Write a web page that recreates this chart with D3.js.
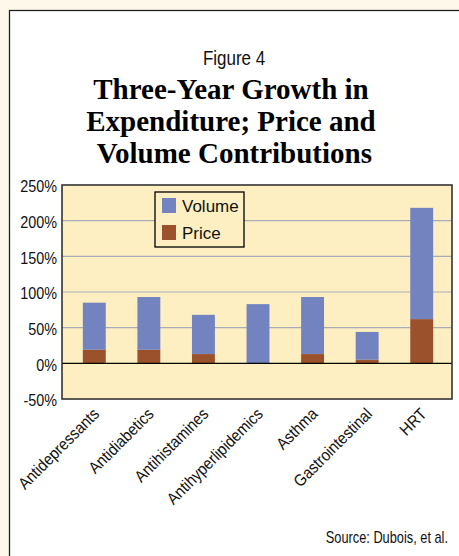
<!DOCTYPE html>
<html lang="en">
<head>
  <meta charset="UTF-8">
  <title>Figure 4</title>
  <script src="https://d3js.org/d3.v7.min.js"></script>
  <style>
    body {
      margin: 0;
      background: #fdf8ea;
    }
    svg {
      display: block;
    }
    .sans {
      font-family: "Liberation Sans", Arial, sans-serif;
      fill: #111;
    }
    .title {
      font-family: "Liberation Serif", "Times New Roman", serif;
      font-weight: bold;
      font-size: 29px;
      fill: #000;
    }
  </style>
</head>
<body>
  <svg width="459" height="556"></svg>

  <script>
    const categories = ["Antidepressants", "Antidiabetics", "Antihistamines", "Antihyperlipidemics", "Asthma", "Gastrointestinal", "HRT"];
    const price = [19, 19, 13, 0, 13, 5, 62];
    const volume = [66, 74, 55, 83, 80, 39, 156];
    const yTicks = [-50, 0, 50, 100, 150, 200, 250];
    const seriesNames = ["Volume", "Price"];

    const colors = { Volume: "#7283c0", Price: "#9b522c" };

    const svg = d3.select("svg");

    // white panel with border
    svg.append("rect")
      .attr("x", 9.5).attr("y", 10.5)
      .attr("width", 470).attr("height", 560)
      .attr("fill", "#fff")
      .attr("stroke", "#222")
      .attr("stroke-width", 1.3);

    // titles (condensed look: squeeze horizontally)
    svg.append("text").attr("class", "sans")
      .attr("transform", "translate(234,65) scale(0.87,1)")
      .attr("text-anchor", "middle")
      .attr("font-size", 19.5)
      .text("Figure 4");

    const titleLines = ["Three-Year Growth in", "Expenditure; Price and", " Volume Contributions"];
    svg.append("text").attr("class", "title")
      .attr("text-anchor", "middle")
      .selectAll("tspan")
      .data(titleLines)
      .join("tspan")
      .attr("x", 231)
      .attr("y", (d, i) => 99 + i * 32)
      .attr("xml:space", "preserve")
      .text(d => d);

    // scales
    const plot = { left: 62, right: 452, top: 185, bottom: 399 };
    const x = d3.scaleBand()
      .domain(categories)
      .range([67, 449])
      .paddingInner(0.58)
      .paddingOuter(0.29);
    const y = d3.scaleLinear()
      .domain([-50, 250])
      .range([plot.bottom, plot.top]);

    svg.append("rect")
      .attr("x", plot.left).attr("y", plot.top)
      .attr("width", plot.right - plot.left)
      .attr("height", plot.bottom - plot.top)
      .attr("fill", "#fdefc2");

    // gridlines
    svg.append("g")
      .selectAll("line")
      .data(yTicks.filter(t => t > 0 && t < 250))
      .join("line")
      .attr("x1", plot.left).attr("x2", plot.right)
      .attr("y1", d => y(d)).attr("y2", d => y(d))
      .attr("stroke", "#a9abb6")
      .attr("stroke-width", 1.2);

    // stacked bars
    const rows = categories.map((c, i) => ({ cat: c, Price: price[i], Volume: volume[i] }));
    const stack = d3.stack().keys(["Price", "Volume"])(rows);

    svg.append("g")
      .selectAll("g")
      .data(stack)
      .join("g")
      .attr("fill", s => colors[s.key])
      .selectAll("rect")
      .data(s => s)
      .join("rect")
      .attr("x", d => x(d.data.cat))
      .attr("width", x.bandwidth())
      .attr("y", d => y(d[1]))
      .attr("height", d => y(d[0]) - y(d[1]));

    // zero line
    svg.append("line")
      .attr("x1", plot.left).attr("x2", plot.right)
      .attr("y1", y(0)).attr("y2", y(0))
      .attr("stroke", "#000")
      .attr("stroke-width", 1.3);

    // plot border
    svg.append("rect")
      .attr("x", plot.left).attr("y", plot.top)
      .attr("width", plot.right - plot.left)
      .attr("height", plot.bottom - plot.top)
      .attr("fill", "none")
      .attr("stroke", "#333")
      .attr("stroke-width", 1.6);

    // y axis labels
    const yAxis = svg.append("g")
      .attr("transform", `translate(${plot.left - 5},0)`)
      .call(d3.axisLeft(y).tickValues(yTicks).tickSize(0).tickPadding(0).tickFormat(d => d + "%"));
    yAxis.select(".domain").remove();
    yAxis.selectAll("text")
      .attr("class", "sans")
      .attr("font-size", 16.5)
      .attr("dy", "0.42em")
      .attr("transform", "scale(0.87,1)");

    // x labels rotated
    svg.append("g")
      .selectAll("text")
      .data(categories)
      .join("text")
      .attr("class", "sans")
      .attr("font-size", 16.5)
      .attr("text-anchor", "end")
      .attr("transform", d => `translate(${x(d) + x.bandwidth() / 2 + 6},${plot.bottom + 16}) rotate(-45) scale(0.9,1)`)
      .text(d => d);

    // legend
    const legend = svg.append("g").attr("transform", "translate(155,192)");
    legend.append("rect")
      .attr("width", 89).attr("height", 55)
      .attr("fill", "#fdefc2")
      .attr("stroke", "#000")
      .attr("stroke-width", 1.3);
    const item = legend.selectAll("g")
      .data(seriesNames)
      .join("g")
      .attr("transform", (d, i) => `translate(7,${6 + i * 27})`);
    item.append("rect")
      .attr("width", 14).attr("height", 15)
      .attr("fill", d => colors[d]);
    item.append("text")
      .attr("class", "sans")
      .attr("x", 20).attr("y", 13.5)
      .attr("font-size", 17)
      .text(d => d);

    // source
    svg.append("text").attr("class", "sans")
      .attr("transform", "translate(448,543) scale(0.8,1)")
      .attr("text-anchor", "end")
      .attr("font-size", 16)
      .text("Source: Dubois, et al.");
  </script>
</body>
</html>
